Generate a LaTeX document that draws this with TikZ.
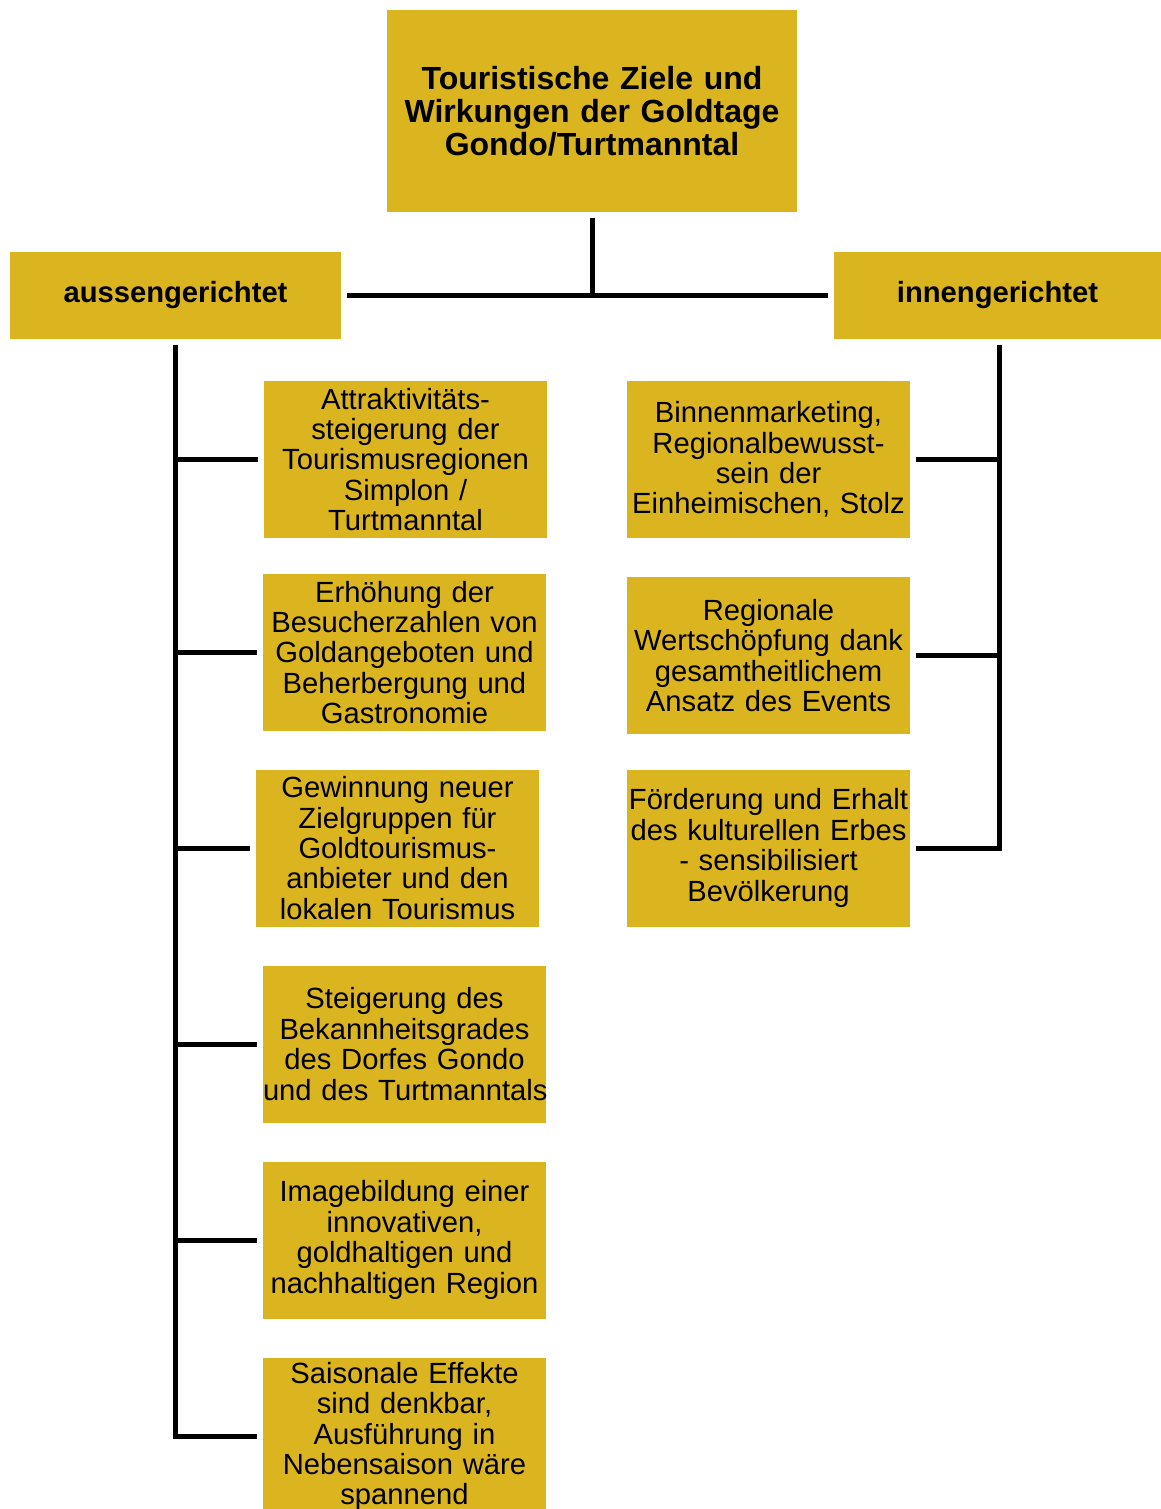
\documentclass[tikz,border=0pt]{standalone}
\usepackage{fontspec}
\setmainfont{Liberation Sans}
\definecolor{gold}{RGB}{219,181,31}

\begin{document}
\begin{tikzpicture}[x=0.5pt,y=-0.5pt,
  box/.style={fill=gold, inner sep=0pt, text width=141.5pt, minimum height=78.5pt, align=center, font=\fontsize{14.6}{15.2}\selectfont},
  head/.style={fill=gold, inner sep=0pt, minimum height=43.5pt, font=\fontsize{14.6}{17}\selectfont\bfseries},
  conn/.style={line width=2.5pt}]
\useasboundingbox (0,0) rectangle (1161,1509);
\clip (0,0) rectangle (1161,1509);

\node[fill=gold, inner sep=0pt, text width=205pt, minimum height=101pt, align=center, font=\fontsize{16}{16.5}\selectfont\bfseries] (title) at (592,111) {Touristische Ziele und\\Wirkungen der Goldtage\\Gondo/Turtmanntal};
\node[head, minimum width=165.5pt] (aussen) at (175.5,295.5) {aussengerichtet};
\node[head, minimum width=163.5pt] (innen) at (997.5,295.5) {innengerichtet};

\node[box] (a1) at (405.5,459.5) {Attraktivitäts-\\steigerung der\\Tourismusregionen\\Simplon /\\Turtmanntal};
\node[box] (a2) at (404.5,652.5) {Erhöhung der\\Besucherzahlen von\\Goldangeboten und\\Beherbergung und\\Gastronomie};
\node[box] (a3) at (397.5,848) {Gewinnung neuer\\Zielgruppen für\\Goldtourismus-\\anbieter und den\\lokalen Tourismus};
\node[box] (a4) at (404.5,1044) {Steigerung des\\Bekannheitsgrades\\des Dorfes Gondo\\\mbox{und des Turtmanntals}};
\node[box] (a5) at (404.5,1240) {Imagebildung einer\\innovativen,\\goldhaltigen und\\nachhaltigen Region};
\node[box] (a6) at (404.5,1436.5) {Saisonale Effekte\\sind denkbar,\\Ausführung in\\Nebensaison wäre\\spannend};

\node[box] (i1) at (768.5,459.5) {Binnenmarketing,\\Regionalbewusst-\\sein der\\Einheimischen, Stolz};
\node[box] (i2) at (768.5,655.5) {Regionale\\Wertschöpfung dank\\gesamtheitlichem\\Ansatz des Events};
\node[box] (i3) at (768.5,848) {Förderung und Erhalt\\des kulturellen Erbes\\- sensibilisiert\\Bevölkerung};

\draw[conn] ([yshift=-3pt]title.south) -- (title.south |- aussen.east);
\draw[conn] ([xshift=3pt]aussen.east) -- ([xshift=-3pt]innen.west);

\draw[conn] ([yshift=-3pt]aussen.south) |- ([xshift=-3pt]a6.west);
\draw[conn] (aussen.south |- a1.west) -- ([xshift=-3pt]a1.west);
\draw[conn] (aussen.south |- a2.west) -- ([xshift=-3pt]a2.west);
\draw[conn] (aussen.south |- a3.west) -- ([xshift=-3pt]a3.west);
\draw[conn] (aussen.south |- a4.west) -- ([xshift=-3pt]a4.west);
\draw[conn] (aussen.south |- a5.west) -- ([xshift=-3pt]a5.west);

\draw[conn] ([xshift=1pt,yshift=-3pt]innen.south) |- ([xshift=3pt]i3.east);
\draw[conn] ([xshift=1pt]innen.south |- i1.east) -- ([xshift=3pt]i1.east);
\draw[conn] ([xshift=1pt]innen.south |- i2.east) -- ([xshift=3pt]i2.east);
\end{tikzpicture}
\end{document}
